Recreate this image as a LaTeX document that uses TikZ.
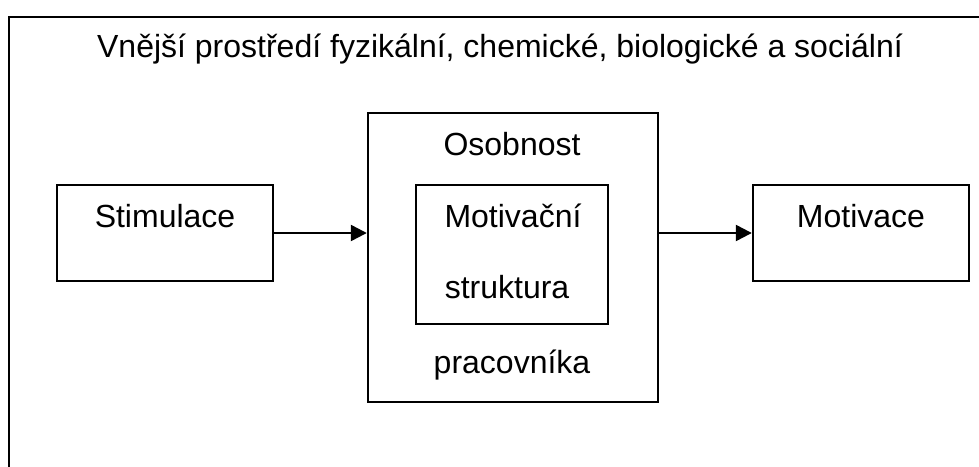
\documentclass[tikz,border=0pt]{standalone}
\usepackage{fontspec}
\setmainfont{Liberation Sans}
\usetikzlibrary{arrows.meta}
\begin{document}
\begin{tikzpicture}[x=1pt,y=-1pt,
  box/.style={draw,line width=2.4pt,rectangle,inner sep=0pt},
  txt/.style={anchor=base,inner sep=0pt,font=\fontsize{32}{38}\selectfont},
  conn/.style={line width=2.4pt,-{Triangle[length=16pt,width=16pt]}}]
\useasboundingbox (0,0) rectangle (979,466);
\fill[white] (0,0) rectangle (979,466);
% outer frame (cropped: top and left only)
\draw[line width=2.4pt] (9,470) -- (9,17) -- (985,17);
\node[txt] (title) at (500,57) {Vnější prostředí fyzikální, chemické, biologické a sociální};
% boxes
\node[box,minimum width=216pt,minimum height=96pt] (stim) at (165,233) {};
\node[txt] (stimt) at (165,227) {Stimulace};
\node[box,minimum width=290pt,minimum height=289pt] (osob) at (513,257.5) {};
\node[txt] (osobt) at (512,155) {Osobnost};
\node[box,minimum width=192pt,minimum height=139pt] (inner) at (512,254.5) {};
\node[txt] (mott) at (513,227) {Motivační};
\node[txt] (strt) at (507,298) {struktura};
\node[txt] (prat) at (512,373) {pracovníka};
\node[box,minimum width=216pt,minimum height=96pt] (mot) at (861,233) {};
\node[txt] (motvt) at (861,227) {Motivace};
% connectors
\draw[conn] (stim.east) -- (stim.east -| osob.west);
\draw[conn] (osob.east |- mot.west) -- (mot.west);
\end{tikzpicture}
\end{document}
